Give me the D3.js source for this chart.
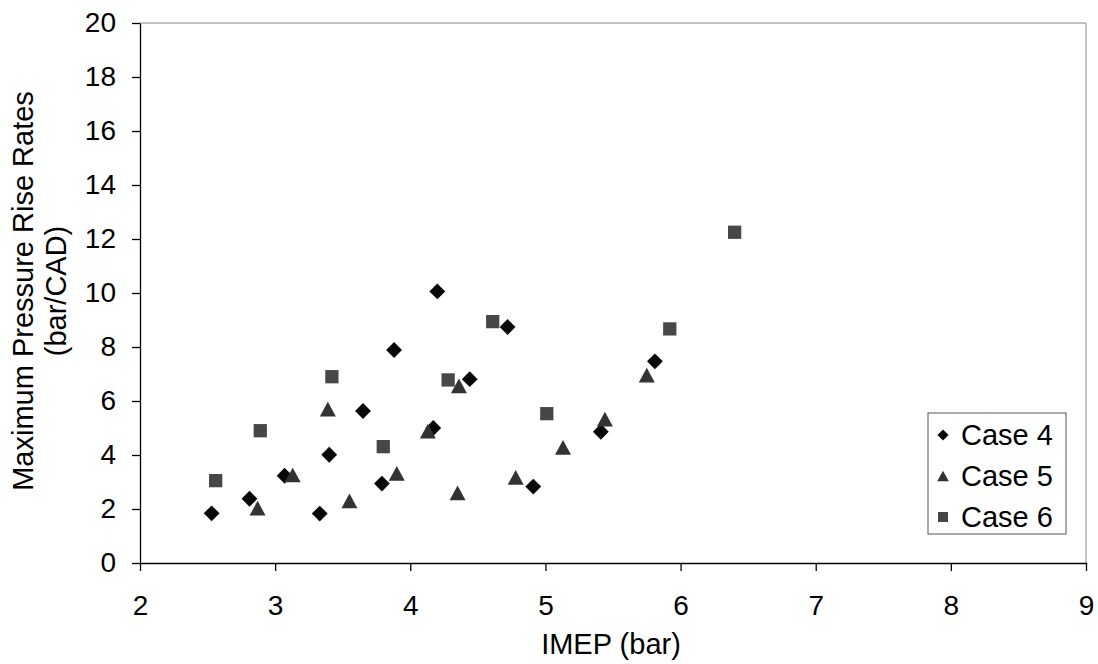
<!DOCTYPE html>
<html>
<head>
<meta charset="utf-8">
<script src="https://cdn.jsdelivr.net/npm/d3@7"></script>
<style>
  body { margin: 0; background: #fff; }
  text { font-family: "Liberation Sans", Arial, sans-serif; }
</style>
</head>
<body>
<div id="chart"></div>
<script>
//Datos
const case4X = [2.53, 2.81, 3.07, 3.33, 3.40, 3.65, 3.79, 3.88, 4.20, 4.17, 4.44, 4.72, 4.91, 5.81, 5.41];
const case4Y = [1.84, 2.38, 3.23, 1.83, 4.01, 5.63, 2.94, 7.89, 10.06, 5.00, 6.81, 8.74, 2.83, 7.47, 4.86];
const case5X = [2.87, 3.13, 3.39, 3.55, 3.90, 4.13, 4.36, 4.35, 4.78, 5.13, 5.44, 5.75];
const case5Y = [2.03, 3.26, 5.70, 2.30, 3.32, 4.88, 6.56, 2.60, 3.17, 4.28, 5.33, 6.96];
const case6X = [2.56, 2.89, 3.42, 3.80, 4.28, 4.61, 5.01, 5.92, 6.40];
const case6Y = [3.05, 4.90, 6.90, 4.31, 6.78, 8.94, 5.53, 8.67, 12.25];
const seriesNames = ['Case 4', 'Case 5', 'Case 6'];
const xTicks = [2, 3, 4, 5, 6, 7, 8, 9];
const yTicks = [0, 2, 4, 6, 8, 10, 12, 14, 16, 18, 20];

const W = 1098, H = 664;
const margin = {top: 23, right: 12, bottom: 101, left: 140};
const width = W - margin.left - margin.right,
      height = H - margin.top - margin.bottom;

let svg = d3.select('#chart').append('svg')
    .attr('width', W)
    .attr('height', H);

let g = svg.append('g')
    .attr('transform', 'translate(' + margin.left + ',' + margin.top + ')');

let x = d3.scaleLinear().domain([2, 9]).range([0, width]);
let y = d3.scaleLinear().domain([0, 20]).range([height, 0]);

//Marco superior y derecho
g.append('path')
    .attr('d', 'M0,0H' + width + 'V' + height)
    .attr('fill', 'none')
    .attr('stroke', '#888')
    .attr('stroke-width', 1);

//Ejes
let xAxis = g.append('g')
    .attr('transform', 'translate(0,' + height + ')')
    .call(d3.axisBottom(x).tickValues(xTicks).tickSize(8).tickSizeOuter(0).tickPadding(24).tickFormat(d3.format('d')));
let yAxis = g.append('g')
    .call(d3.axisLeft(y).tickValues(yTicks).tickSize(8).tickSizeOuter(0).tickPadding(16).tickFormat(d3.format('d')));

[xAxis, yAxis].forEach(function(a) {
    a.selectAll('path, line').attr('stroke', '#000').attr('stroke-width', 1.3);
    a.selectAll('text').attr('font-size', 28).attr('fill', '#000')
        .attr('font-family', '"Liberation Sans", Arial, sans-serif');
});

//Titulos
svg.append('text')
    .attr('x', 611)
    .attr('y', 654)
    .attr('text-anchor', 'middle')
    .attr('font-size', 29)
    .text('IMEP (bar)');

let yTitle = svg.append('text')
    .attr('transform', 'translate(33,' + (margin.top + y(10) - 2) + ') rotate(-90)')
    .attr('text-anchor', 'middle')
    .attr('font-size', 29);
yTitle.append('tspan').attr('x', 0).attr('y', 0).text('Maximum Pressure Rise Rates');
yTitle.append('tspan').attr('x', 0).attr('y', 33).text('(bar/CAD)');

//Simbolos
//Triangulo centrado en su caja
const triangleBox = {
    draw: function(context, size) {
        let w = Math.sqrt(size * 2.2) / 2, h = w * 0.92;
        context.moveTo(0, -h);
        context.lineTo(w, h);
        context.lineTo(-w, h);
        context.closePath();
    }
};

const styles = [
    {xs: case4X, ys: case4Y, type: d3.symbolDiamond2, size: 160, legendSize: 80, color: '#080808'},
    {xs: case5X, ys: case5Y, type: triangleBox, size: 116, legendSize: 62, color: '#333333'},
    {xs: case6X, ys: case6Y, type: d3.symbolSquare, size: 176, legendSize: 100, color: '#474747'}
];

styles.forEach(function(s) {
    let pts = s.xs.map(function(v, i) { return [v, s.ys[i]]; });
    g.append('g').selectAll('path')
        .data(pts)
        .enter()
        .append('path')
        .attr('d', d3.symbol().type(s.type).size(s.size))
        .attr('transform', function(d) { return 'translate(' + x(d[0]) + ',' + y(d[1]) + ')'; })
        .attr('fill', s.color);
});

//Leyenda
let legend = svg.append('g').attr('transform', 'translate(928,413)');
legend.append('rect')
    .attr('width', 138)
    .attr('height', 121)
    .attr('fill', '#fff')
    .attr('stroke', '#555')
    .attr('stroke-width', 1);

seriesNames.forEach(function(name, i) {
    let row = legend.append('g').attr('transform', 'translate(0,' + (22 + i * 41) + ')');
    row.append('path')
        .attr('d', d3.symbol().type(styles[i].type).size(styles[i].legendSize))
        .attr('transform', 'translate(15,0)')
        .attr('fill', styles[i].color);
    row.append('text')
        .attr('x', 33)
        .attr('y', 10)
        .attr('font-size', 29)
        .text(name);
});
</script>
</body>
</html>
